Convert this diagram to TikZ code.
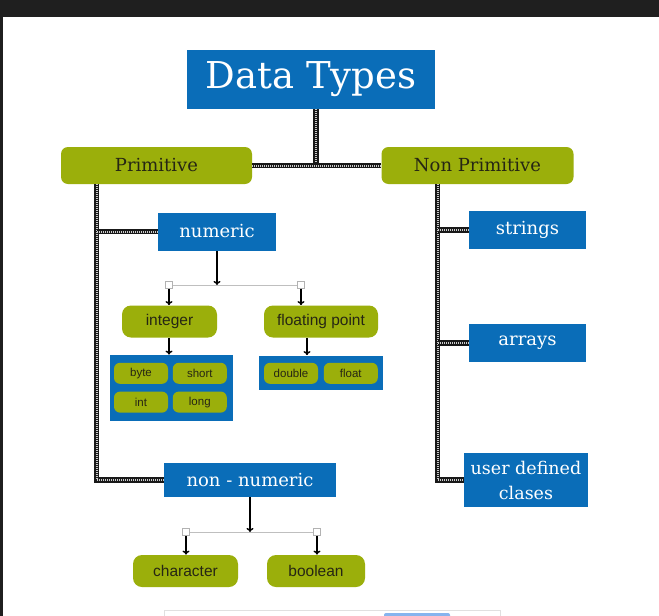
\documentclass[tikz,border=0pt]{standalone}
\usepackage{fontspec}
\setmainfont{Liberation Sans}
\newfontfamily\slabfont{DejaVu Serif}
\usepackage{xcolor}
\usepackage{tikz}
\usetikzlibrary{positioning,arrows.meta,calc}
\definecolor{dtblue}{HTML}{0A6DB8}
\definecolor{dtgreen}{HTML}{9BAF0B}
\definecolor{dtink}{HTML}{262614}
\definecolor{tabblue}{HTML}{86B4EE}
\tikzset{%
	block/.style    = {fill=dtblue, text=white, inner sep=0pt, align=center,
		font=\slabfont\fontsize{18}{25}\selectfont},
	head/.style     = {fill=dtgreen, text=dtink, rounded corners=7pt, inner sep=0pt,
		minimum height=37pt, font=\slabfont\fontsize{18}{22}\selectfont},
	pill/.style     = {fill=dtgreen, text=dtink, rounded corners=9pt, inner sep=0pt,
		minimum height=32pt, font=\fontsize{15.5}{18}\selectfont},
	chip/.style     = {fill=dtgreen, text=dtink, rounded corners=6pt, inner sep=0pt,
		minimum height=21pt, minimum width=54pt, font=\fontsize{11.5}{13}\selectfont},
	rail/.style     = {line width=5.2pt, black!90,
		postaction={draw=white!80!black, line width=2pt, dash pattern=on 1pt off 1pt}},
	knot/.style     = {draw=black!30, fill=white, line width=0.8pt,
		minimum size=7pt, inner sep=0pt},
	pointer/.style  = {->, line width=1.4pt}
}
\begin{document}
\begin{tikzpicture}[x=1pt, y=-1pt, thick,
          >={To[length=4pt,width=7pt]}]
        \useasboundingbox (0,0) rectangle (659,616);
        \fill[white] (0,0) rectangle (659,616);
        \fill[black!88] (0,0) rectangle (659,17);
        \fill[black!88] (0,17) rectangle (3,616);
        \draw[black!12, line width=0.8pt] (164,617) |- (500,610) -- (500,617);
        \fill[tabblue, rounded corners=2pt] (384,617) |- (450,613) -- (450,617);

        % top levels
        \node [block, minimum width=248pt, minimum height=59pt,
               font=\slabfont\fontsize{37}{40}\selectfont] (dt) at (311,79.5) {Data Types};
        \node [head, minimum width=191pt] (prim) at (156.5,165.5) {Primitive};
        \node [head, minimum width=192pt] (nprim) at (477.5,165.5) {Non Primitive};

        \node [block, minimum width=118pt, minimum height=38pt] (num) at (217,231.5) {numeric};
        \node [block, minimum width=172pt, minimum height=34pt] (nnum) at (250,480) {non - numeric};
        \node [block, minimum width=117pt, minimum height=38pt] (str) at (527.5,230) {strings};
        \node [block, minimum width=117pt, minimum height=38pt] (arr) at (527.5,343) {arrays};
        \node [block, minimum width=124pt, minimum height=54pt,
               font=\slabfont\fontsize{17.5}{25}\selectfont] (udc) at (526,480) {user defined\\clases};

        % numeric side
        \node [pill, minimum width=95pt] (intg) at (169.5,321.5) {integer};
        \node [pill, minimum width=114pt] (fp) at (321,321.5) {floating point};
        \node [block, minimum width=123pt, minimum height=66pt] (intset) at (171,388) {};
        \node [block, minimum width=124pt, minimum height=34pt] (fpset) at (321,372.5) {};
        \node [chip] (byte) at (141,373.3) {byte};
        \node [chip, right=4pt of byte] (short) {short};
        \node [chip, below=7pt of byte] (int) {int};
        \node [chip, right=4pt of int] (long) {long};
        \node [chip] (dbl) at (291,373.3) {double};
        \node [chip, right=5pt of dbl] (flt) {float};

        % non-numeric side
        \node [pill, minimum width=105pt] (chr) at (185.5,571) {character};
        \node [pill, minimum width=98pt] (bool) at (316,571) {boolean};

        \node [knot] (ka) at (169,285) {};
        \node [knot] (kb) at (301,285) {};
        \node [knot] (kc) at (186,532) {};
        \node [knot] (kd) at (317,532) {};
        \draw[black!25, line width=0.8pt] (ka) -- (kb);
        \draw[black!25, line width=0.8pt] (kc) -- (kd);

        \draw[pointer] (num.south) -- (num.south |- ka.center);
        \draw[pointer] (ka.south) -- (ka.south |- intg.north);
        \draw[pointer] (kb.south) -- (kb.south |- fp.north);
        \draw[pointer] (intg.south -| ka) -- (intset.north -| ka);
        \draw[pointer] ([xshift=-14pt]fp.south) -- ([xshift=-14pt]fp.south |- fpset.north);
        \draw[pointer] (nnum.south) -- (nnum.south |- kc.center);
        \draw[pointer] (kc.south) -- (kc.south |- chr.north);
        \draw[pointer] (kd.south) -- (kd.south |- bool.north);

        % rails
        \coordinate (ptrunk) at ($(prim.south west)+(36,0)$);
        \coordinate (ntrunk) at ($(nprim.south west)+(56.5,0)$);
        \draw[rail] ([xshift=5pt]dt.south) -- ([xshift=5pt]dt.south |- prim.east);
        \draw[rail] (prim.east) -- (nprim.west);
        \draw[rail] (ptrunk) |- (nnum.west);
        \draw[rail] (num.west) -- (num.west -| ptrunk);
        \draw[rail] (ntrunk) |- (udc.west);
        \draw[rail] (str.west) -- (str.west -| ntrunk);
        \draw[rail] (arr.west) -- (arr.west -| ntrunk);
\end{tikzpicture}
\end{document}
